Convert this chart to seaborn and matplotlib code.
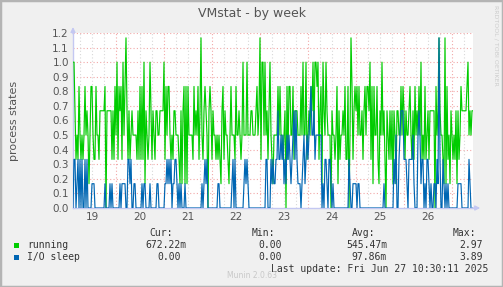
import numpy as np
import pandas as pd
import matplotlib
matplotlib.use("Agg")
import matplotlib.pyplot as plt
import seaborn as sns
from matplotlib.patches import Rectangle

# ---- data (values in sixths of a process, half-hourly samples) ----
running_sixths = [
    6,6,4,2,3,2,5,3,2,3,2,3,5,3,4,3,1,3,5,5,3,2,2,5,3,3,2,4,4,4,4,4,5,0,4,4,4,4,4,2,4,2,5,3,6,2,5,4,
    5,2,6,3,5,7,4,2,4,2,3,4,3,3,3,3,2,4,2,5,2,5,2,6,1,4,3,2,3,6,4,2,4,3,2,4,4,3,3,4,4,4,4,6,2,5,3,5,
    5,3,2,3,2,4,4,3,3,3,2,1,4,1,4,5,1,5,1,5,3,3,3,3,2,5,3,4,3,5,2,4,7,3,2,4,5,4,3,0,4,5,4,2,4,3,3,2,
    3,2,3,2,1,4,5,2,4,3,3,2,1,3,5,3,3,3,2,5,3,3,4,3,2,3,6,3,3,3,6,3,3,3,4,4,3,3,3,4,5,3,4,7,2,6,6,3,
    6,3,4,2,4,6,3,2,1,3,3,3,3,5,3,5,3,3,2,3,4,0,5,2,5,5,3,3,5,2,4,4,4,3,3,3,5,3,6,3,3,6,2,3,4,3,5,4,
    6,3,6,6,5,6,2,4,5,1,6,4,3,6,4,3,3,3,0,4,3,3,2,3,5,1,4,2,3,3,4,3,5,2,2,5,0,3,7,5,2,4,5,4,5,3,5,3,
    3,4,2,4,5,3,5,5,4,6,2,5,1,5,3,3,5,2,1,4,3,6,3,4,2,0,4,3,2,4,2,4,1,4,3,1,4,4,3,3,5,3,5,4,2,4,3,3,
    4,5,3,2,4,2,5,3,4,3,5,3,6,2,3,2,5,2,3,4,2,4,4,4,4,4,0,5,3,4,7,4,3,3,2,1,7,1,5,2,3,1,4,3,2,3,2,4,
    1,4,2,3,5,4,4,4,4,4,5,6,3,4,3,4,4,
]
io_sleep_sixths = [
    0,2,2,0,1,2,0,2,0,2,0,0,2,0,2,0,0,0,0,1,1,1,0,0,0,0,0,0,0,0,0,0,1,0,0,0,0,1,0,1,0,0,0,0,0,0,0,1,
    0,1,1,1,1,0,0,2,2,1,2,0,0,1,1,0,0,0,0,0,0,1,0,1,1,0,0,0,0,1,0,0,0,0,0,0,1,1,0,0,0,0,0,0,1,1,2,1,
    2,1,2,0,1,1,2,2,1,0,1,0,1,0,0,0,1,0,0,0,0,0,0,0,0,0,0,0,0,0,0,0,0,1,0,1,2,1,2,0,0,0,0,0,0,0,0,0,
    0,1,1,0,0,0,0,0,0,0,0,0,0,0,0,1,2,0,2,0,0,0,0,0,0,0,0,1,2,1,2,1,0,0,0,0,0,0,0,0,0,0,0,0,0,0,0,0,
    0,2,2,0,0,0,2,1,2,1,1,2,2,4,2,2,3,2,3,1,2,1,3,2,3,2,1,2,3,4,2,4,2,1,1,1,0,1,2,3,1,2,3,2,3,4,5,3,
    3,4,2,3,3,3,3,3,3,0,1,0,2,2,1,0,2,2,1,0,1,0,0,0,0,0,0,0,0,0,0,0,0,0,0,0,2,1,0,0,1,1,1,1,0,1,1,0,
    0,0,0,0,0,0,0,0,0,0,0,0,0,0,0,0,0,0,0,0,0,0,0,1,0,0,0,0,0,0,0,0,0,2,1,3,0,0,2,3,4,4,4,2,2,2,1,0,
    2,2,2,2,3,1,0,0,0,3,4,3,1,2,2,0,1,0,2,2,1,0,1,0,0,1,1,0,2,1,7,2,0,0,2,1,0,1,0,1,0,0,0,0,0,0,0,0,
    0,1,1,1,1,0,0,0,0,0,0,0,2,1,0,0,0,
]
series_names = ["running", "I/O sleep"]
series_colors = ["#00CC00", "#0066B3"]
day_labels = ["19", "20", "21", "22", "23", "24", "25", "26"]
cur_vals = ["672.22m", "0.00"]
min_vals = ["0.00", "0.00"]
avg_vals = ["545.47m", "97.86m"]
max_vals = ["2.97", "3.89"]

# time axis in day-of-month units: Jun 19 02:30 -> Jun 27 10:30
t_start = 19 + 2.5 / 24
t_end = 27 + 10.5 / 24

frames = []
for name, vals in zip(series_names, [running_sixths, io_sleep_sixths]):
    v = np.array(vals, dtype=float) / 6.0
    t = np.linspace(t_start, t_end, len(v))
    frames.append(pd.DataFrame({"t": t, "v": v, "series": name}))
df = pd.concat(frames, ignore_index=True)

sns.set_style("white")
plt.rcParams["font.family"] = ["DejaVu Sans"]

W, H = 503, 287
fig = plt.figure(figsize=(W / 100, H / 100), dpi=100, facecolor="#F0F0F0")
ax = fig.add_axes([73 / W, 1 - 208 / H, 400 / W, 175 / H])
ax.set_facecolor("white")

ax.set_xlim(t_start, t_end)
ax.set_ylim(0, 1.2)

# grid
minor_col = "#d8d8d8"
major_col = "#f2a8a8"
for yv in np.arange(0.1, 1.21, 0.1):
    ax.axhline(yv, color=major_col, lw=0.8, ls=(0, (1, 2)), zorder=0)
six_h = np.arange(np.ceil(t_start * 4) / 4, t_end, 0.25)
for xv in six_h:
    if abs(xv - round(xv)) < 1e-6:
        ax.axvline(xv, color=major_col, lw=0.8, ls=(0, (1, 2)), zorder=0)
    else:
        ax.axvline(xv, color=minor_col, lw=0.8, ls=(0, (1, 2)), zorder=0)

sns.lineplot(data=df, x="t", y="v", hue="series", palette=series_colors,
             hue_order=series_names, ax=ax, lw=0.85, legend=False, zorder=3)

for s in ["top", "right"]:
    ax.spines[s].set_visible(False)
axis_col = "#c4c8f2"
ax.spines["left"].set_color(axis_col)
ax.spines["bottom"].set_color(axis_col)
ax.spines["left"].set_linewidth(1.0)
ax.spines["bottom"].set_linewidth(1.0)
ax.annotate("", xy=(0, 1.05), xycoords="axes fraction", xytext=(0, 0.98),
            arrowprops=dict(arrowstyle="-|>", color=axis_col, lw=1, mutation_scale=7),
            annotation_clip=False)
ax.annotate("", xy=(1.025, 0), xycoords="axes fraction", xytext=(0.99, 0),
            arrowprops=dict(arrowstyle="-|>", color=axis_col, lw=1, mutation_scale=7),
            annotation_clip=False)

ax.set_yticks(np.round(np.arange(0, 1.21, 0.1), 1))
ax.set_yticklabels([f"{v:.1f}" for v in np.arange(0, 1.21, 0.1)])
ax.set_xticks([int(d) + 0.5 for d in day_labels])
ax.set_xticklabels(day_labels)
ax.tick_params(axis="both", length=0, labelsize=7.5, colors="#555555", pad=3)
ax.set_xlabel("")
ax.set_ylabel("process states", fontsize=8, color="#555555")
ax.yaxis.set_label_coords(-0.135, 0.5)
ax.grid(False)

# title
fig.text(252 / W, 1 - 13 / H, "VMstat - by week", ha="center", va="center",
         fontsize=9, color="#555555")
fig.text(496 / W, 1 - 45 / H, "RRDTOOL / TOBI OETIKER", rotation=270,
         ha="center", va="center", fontsize=4.5, color="#cccccc")

# legend block
mono = "DejaVu Sans Mono"
fs = 7
tc = "#333333"
def ftext(x, y, s, ha="left"):
    fig.text(x / W, 1 - y / H, s, ha=ha, va="center", fontsize=fs,
             family=mono, color=tc)

ftext(173, 233, "Cur:", ha="right")
ftext(275, 233, "Min:", ha="right")
ftext(375, 233, "Avg:", ha="right")
ftext(476, 233, "Max:", ha="right")
rows_y = [245, 257]
cur_x = [186, 181]
for i in range(2):
    y = rows_y[i]
    fig.patches.append(Rectangle((14 / W, 1 - (y + 3) / H), 5 / W, 5 / H,
                                 transform=fig.transFigure, facecolor=series_colors[i],
                                 edgecolor="none"))
    ftext(27, y, series_names[i])
    ftext(cur_x[i], y, cur_vals[i], ha="right")
    ftext(282, y, min_vals[i], ha="right")
    ftext(387, y, avg_vals[i], ha="right")
    ftext(483, y, max_vals[i], ha="right")
ftext(488, 269, "Last update: Fri Jun 27 10:30:11 2025", ha="right")
fig.text(252 / W, 1 - 276 / H, "Munin 2.0.63", ha="center", va="center",
         fontsize=5.5, color="#c8c8c8")

# frame
fig.patches.append(Rectangle((0, 0), 1, 1, transform=fig.transFigure,
                             facecolor="none", edgecolor="#b4b4b4", lw=2.5))

fig.savefig("out.png", dpi=100, facecolor=fig.get_facecolor())
